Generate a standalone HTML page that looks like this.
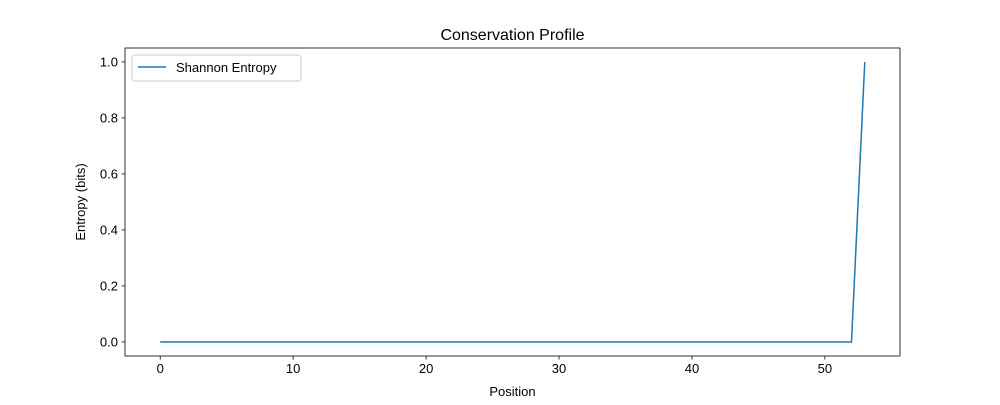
<!DOCTYPE html>
<html><head><meta charset="utf-8"><style>
body{margin:0;background:#fff;}
svg{font-family:"Liberation Sans","DejaVu Sans",sans-serif;}
</style></head><body>
<svg id="chart" width="1000" height="400" xmlns="http://www.w3.org/2000/svg">
<rect width="1000" height="400" fill="#fff"/>
<text x="512.5" y="40" text-anchor="middle" font-size="16">Conservation Profile</text>
<g id="ticks"></g>
<path id="line" fill="none" stroke="#1f77b4" stroke-width="1.5"/>
<rect x="125" y="48" width="775" height="308" fill="none" stroke="#000" stroke-width="0.8"/>
<text x="512.5" y="396" text-anchor="middle" font-size="13">Position</text>
<text transform="translate(85,202) rotate(-90)" text-anchor="middle" font-size="13">Entropy (bits)</text>
<g>
<rect x="132" y="55" width="169" height="26" rx="3" fill="#fff" fill-opacity="0.8" stroke="#ccc" stroke-width="1"/>
<line x1="138" y1="67" x2="166" y2="67" stroke="#1f77b4" stroke-width="1.5"/>
<text x="176" y="72" font-size="13">Shannon Entropy</text>
</g>
</svg>
<script>
const positions = Array.from({length:54},(_,i)=>i);
const entropy = [0,0,0,0,0,0,0,0,0,0,0,0,0,0,0,0,0,0,0,0,0,0,0,0,0,0,0,0,0,0,0,0,0,0,0,0,0,0,0,0,0,0,0,0,0,0,0,0,0,0,0,0,0,1];
const xTicks = [0,10,20,30,40,50];
const yTicks = [0.0,0.2,0.4,0.6,0.8,1.0];
const X0=125,X1=900,Y0=356,Y1=48;
const xmin=-2.65,xmax=55.65,ymin=-0.05,ymax=1.05;
function xs(v){return X0+(v-xmin)/(xmax-xmin)*(X1-X0);}
function ys(v){return Y0-(v-ymin)/(ymax-ymin)*(Y0-Y1);}
const NS="http://www.w3.org/2000/svg";
const g=document.getElementById('ticks');
function mk(t,a){const e=document.createElementNS(NS,t);for(const k in a)e.setAttribute(k,a[k]);return e;}
xTicks.forEach(v=>{
  const l=mk('line',{x1:xs(v),x2:xs(v),y1:Y0,y2:Y0+3.5,stroke:'#000','stroke-width':0.8});
  
  
  g.appendChild(l);
  const t=mk('text',{x:xs(v),y:Y0+17,'text-anchor':'middle','font-size':13});
  
  
  t.textContent=v;g.appendChild(t);
});
yTicks.forEach(v=>{
  const l=mk('line',{x1:X0-3.5,x2:X0,y1:ys(v),y2:ys(v),stroke:'#000','stroke-width':0.8});
  
  
  g.appendChild(l);
  const t=mk('text',{x:X0-7,y:ys(v)+4.5,'text-anchor':'end','font-size':13});
  
  
  t.textContent=v.toFixed(1);g.appendChild(t);
});
document.getElementById('line').setAttribute('d',positions.map((p,i)=>(i?'L':'M')+xs(p)+','+ys(entropy[i])).join(''));
</script>
</body></html>
